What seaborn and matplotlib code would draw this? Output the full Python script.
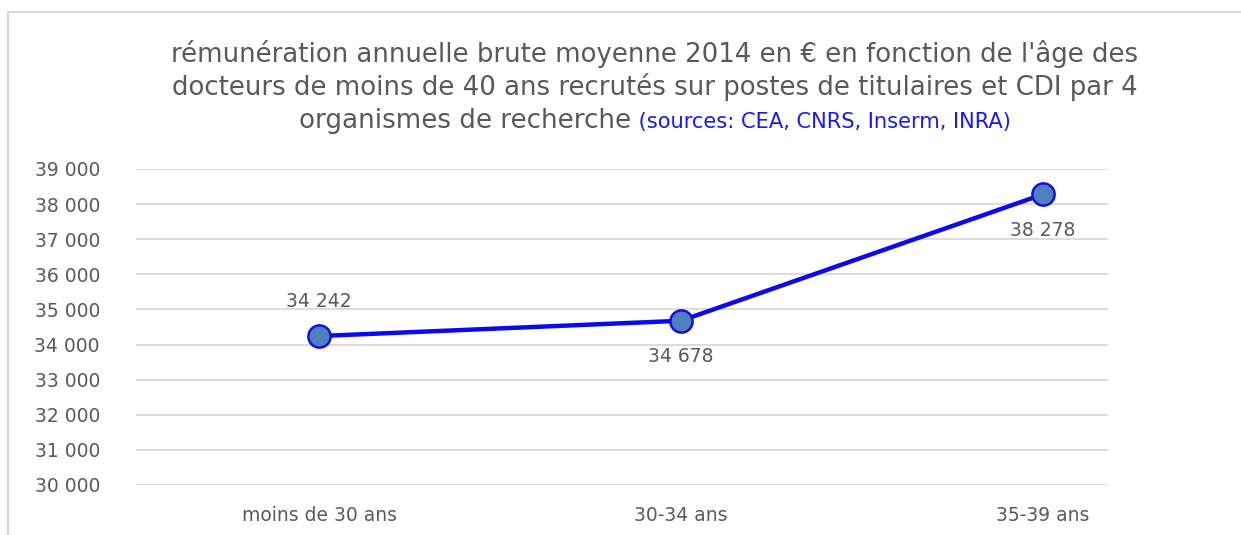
import matplotlib
matplotlib.use("Agg")
import matplotlib.pyplot as plt
import seaborn as sns
import pandas as pd
from matplotlib.lines import Line2D

categories = ["moins de 30 ans", "30-34 ans", "35-39 ans"]
salaires = [34242, 34678, 38278]
label_pos = ["above", "below", "below"]
y_ticks = list(range(30000, 39001, 1000))

title_lines = [
    "rémunération annuelle brute moyenne 2014 en € en fonction de l'âge des",
    "docteurs de moins de 40 ans recrutés sur postes de titulaires et CDI par 4",
]
title_last = "organismes de recherche"
title_sources = " (sources: CEA, CNRS, Inserm, INRA)"

def fmt(v):
    return f"{v:,}".replace(",", " ")

sns.set_style("white")
plt.rcParams["font.family"] = ["DejaVu Sans"]
gray = "#595959"

df = pd.DataFrame({"age": categories, "salaire": salaires})

fig = plt.figure(figsize=(12.41, 5.35), dpi=100)
# chart frame (top and left edges visible)
fig.lines.append(Line2D([8 / 1241, 1], [1 - 12 / 535] * 2, transform=fig.transFigure,
                        color="#d9d9d9", linewidth=1.5))
fig.lines.append(Line2D([8 / 1241] * 2, [0, 1 - 12 / 535], transform=fig.transFigure,
                        color="#d9d9d9", linewidth=1.5))
ax = fig.add_axes([136 / 1241, 1 - 485 / 535, (1108 - 136) / 1241, (485 - 169) / 535])

sns.lineplot(data=df, x="age", y="salaire", sort=False, ax=ax,
             color="#0a0aef", linewidth=3.2, marker="o", markersize=16,
             markerfacecolor="#4f7fbf", markeredgecolor="#1010e0", markeredgewidth=1.8)

ax.set_ylim(30000, 39000)
ax.set_xlim(-0.506, 2.18)
ax.set_yticks(y_ticks)
ax.set_yticklabels([fmt(v) for v in y_ticks])
ax.yaxis.grid(True, color="#d9d9d9", linewidth=1.3)
ax.set_axisbelow(True)
for s in ax.spines.values():
    s.set_visible(False)
ax.tick_params(axis="both", length=0, labelsize=13.5, colors=gray)
ax.tick_params(axis="y", pad=26)
ax.tick_params(axis="x", pad=15)
ax.set_xlabel("")
ax.set_ylabel("")

for i, (v, pos) in enumerate(zip(salaires, label_pos)):
    dy = 25 if pos == "above" else -26
    ax.annotate(fmt(v), (i, v), xytext=(0, dy), textcoords="offset points",
                ha="center", va="center", fontsize=13.5, color=gray)

cx = 655 / 1241
fig.text(cx, 1 - 62 / 535, title_lines[0], ha="center", va="baseline", fontsize=18.7, color=gray)
fig.text(cx, 1 - 95 / 535, title_lines[1], ha="center", va="baseline", fontsize=18.7, color=gray)
t1 = fig.text(0, 1 - 128 / 535, title_last, ha="left", va="baseline", fontsize=18.8, color=gray)
t2 = fig.text(0, 1 - 128 / 535, title_sources, ha="left", va="baseline", fontsize=15.1, color="#1a1aee")
fig.canvas.draw()
r = fig.canvas.get_renderer()
w1 = t1.get_window_extent(r).width / fig.bbox.width
w2 = t2.get_window_extent(r).width / fig.bbox.width
start = cx - (w1 + w2) / 2
t1.set_x(start)
t2.set_x(start + w1)

fig.savefig("out.png", dpi=100)
